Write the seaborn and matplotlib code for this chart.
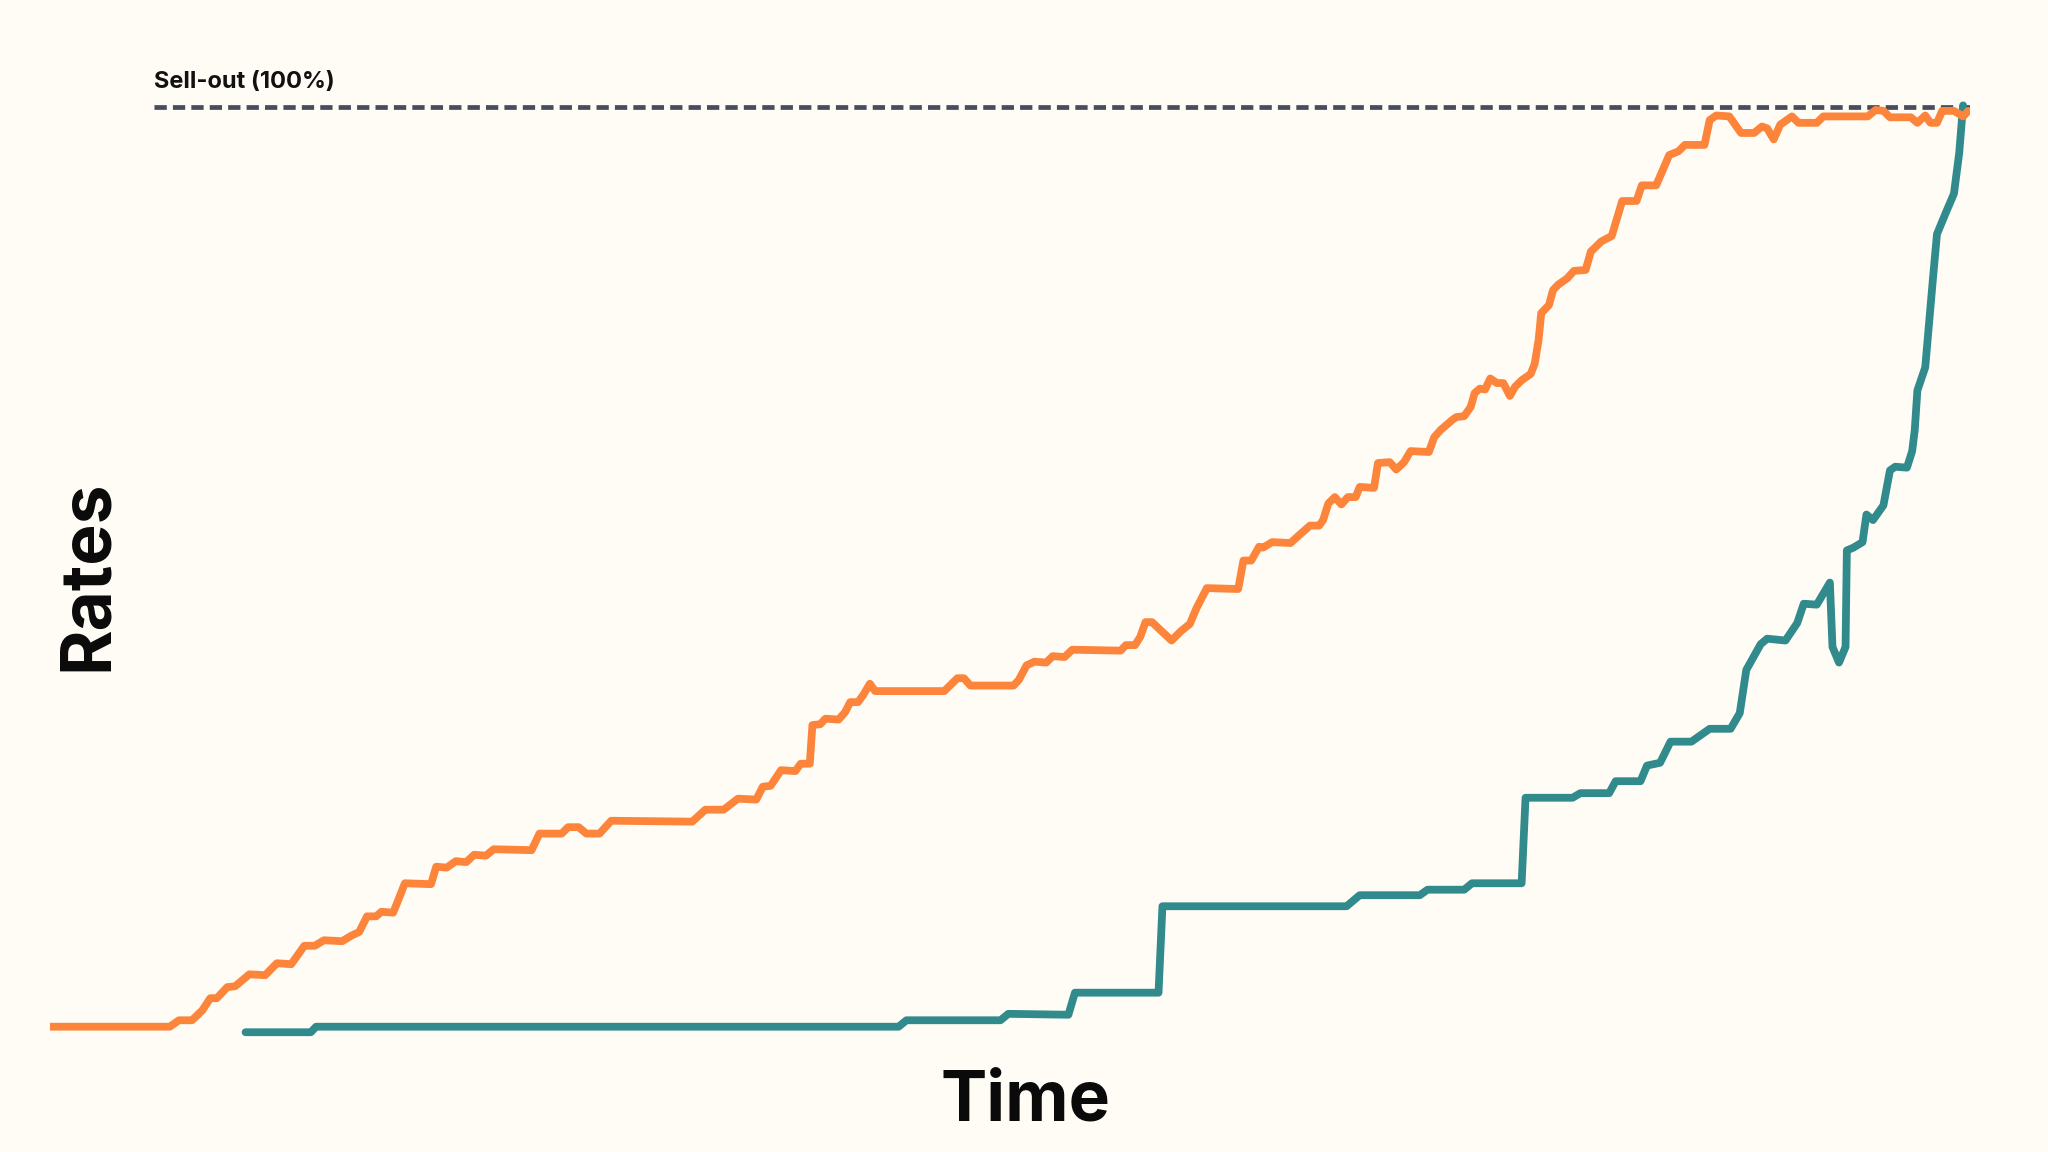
import pandas as pd
import matplotlib.pyplot as plt
import seaborn as sns

# Days since sales opened, and % of capacity sold
orange_days = [0.0, 9.2, 9.9, 10.9, 11.7, 12.3, 12.8, 13.6, 14.2, 15.3, 16.5, 17.4, 18.5,
               19.5, 20.3, 21.0, 22.4, 23.1, 23.7, 24.3, 25.0, 25.4, 26.3, 26.7, 27.2,
               29.2, 29.6, 30.4, 31.1, 31.9, 32.5, 33.4, 34.0, 36.9, 37.5, 39.2, 39.7,
               40.5, 41.1, 42.1, 43.0, 49.2, 50.2, 51.6, 52.7, 54.1, 54.6, 55.2, 56.0,
               57.1, 57.5, 58.2, 58.4, 59.0, 59.4, 60.4, 60.9, 61.3, 61.9, 62.3, 62.8,
               63.2, 68.5, 69.5, 70.0, 70.5, 73.8, 74.2, 74.8, 75.4, 76.3, 76.8, 77.7,
               78.3, 82.0, 82.4, 83.1, 83.5, 83.9, 84.4, 85.9, 86.6, 87.3, 87.8, 88.6,
               91.0, 91.4, 92.0, 92.6, 92.9, 93.6, 95.0, 95.7, 96.5, 97.2, 97.5, 97.9,
               98.4, 98.9, 99.4, 100.0, 100.3, 101.4, 101.7, 102.6, 103.1, 103.7, 104.2,
               105.6, 106.0, 106.5, 107.4, 107.7, 108.3, 108.8, 109.1, 109.5, 109.9,
               110.3, 110.8, 111.3, 111.8, 112.2, 112.7, 113.4, 113.7, 114.0, 114.2,
               114.8, 115.1, 115.5, 116.2, 116.7, 117.6, 118.0, 118.8, 119.6, 120.4,
               121.5, 121.9, 123.0, 124.0, 124.7, 125.2, 126.7, 127.1, 127.6, 128.6,
               129.5, 130.5, 131.1, 131.5, 132.0, 132.5, 133.4, 133.9, 135.3, 135.8,
               139.2, 139.8, 140.4, 140.9, 142.5, 143.0, 143.6, 144.0, 144.5, 144.9,
               145.8, 146.5, 146.9]
orange_rate = [0.0, 0.0, 0.7, 0.7, 1.8, 3.1, 3.1, 4.3, 4.4, 5.7, 5.6, 6.9, 6.8,
               8.8, 8.8, 9.4, 9.3, 9.9, 10.3, 12.0, 12.0, 12.5, 12.4, 13.8, 15.6,
               15.5, 17.4, 17.3, 18.0, 17.9, 18.7, 18.6, 19.3, 19.2, 21.0, 21.0, 21.7,
               21.7, 21.0, 21.0, 22.4, 22.3, 23.6, 23.6, 24.8, 24.7, 26.1, 26.2, 27.9,
               27.8, 28.6, 28.6, 32.8, 32.9, 33.5, 33.4, 34.2, 35.3, 35.3, 36.1, 37.3,
               36.5, 36.5, 37.9, 37.9, 37.1, 37.1, 37.7, 39.3, 39.7, 39.6, 40.3, 40.2,
               41.0, 40.9, 41.5, 41.5, 42.4, 44.0, 44.0, 42.0, 43.0, 43.8, 45.5, 47.7,
               47.6, 50.7, 50.7, 52.2, 52.1, 52.7, 52.6, 53.5, 54.5, 54.5, 55.1, 56.9,
               57.6, 56.8, 57.6, 57.6, 58.7, 58.6, 61.3, 61.4, 60.6, 61.4, 62.6,
               62.5, 64.1, 64.9, 66.0, 66.3, 66.4, 67.4, 68.9, 69.4, 69.3,
               70.5, 70.0, 70.0, 68.6, 69.6, 70.3, 71.0, 72.1, 74.7, 77.6,
               78.5, 80.1, 80.7, 81.4, 82.2, 82.3, 84.3, 85.4, 86.0, 89.8,
               89.8, 91.5, 91.5, 94.8, 95.2, 95.9, 95.9, 98.6, 99.1, 99.0,
               97.2, 97.2, 97.9, 97.7, 96.5, 98.1, 99.0, 98.3, 98.3, 99.0,
               99.0, 99.7, 99.6, 98.9, 98.9, 98.3, 99.1, 98.3, 98.3, 99.6,
               99.6, 99.0, 99.6]

teal_days = [15.0, 20.0, 20.4, 65.0, 65.6, 72.8, 73.4, 78.0, 78.5, 84.9, 85.2, 99.3,
             100.3, 104.9, 105.5, 108.3, 108.9, 112.7, 113.0, 116.6, 117.2, 119.4,
             119.9, 121.8, 122.3, 123.3, 124.1, 125.7, 126.4, 127.1, 128.7, 129.4,
             129.9, 131.0, 131.5, 132.9, 133.8, 134.3, 135.3, 136.3, 136.5, 137.0,
             137.5, 137.6, 138.1, 138.8, 139.1, 139.6, 140.4, 140.9, 141.3, 142.2,
             142.6, 142.8, 143.0, 143.6, 144.2, 144.5, 145.2, 145.8, 146.2, 146.5]
teal_rate = [-0.6, -0.6, 0.0, 0.0, 0.7, 0.7, 1.4, 1.3, 3.7, 3.7, 13.1, 13.1,
             14.3, 14.3, 14.9, 14.9, 15.6, 15.6, 24.9, 24.9, 25.4, 25.4,
             26.7, 26.7, 28.4, 28.7, 31.0, 31.0, 31.7, 32.4, 32.4, 34.1,
             38.8, 41.6, 42.2, 42.0, 43.9, 46.0, 45.9, 48.3, 41.3, 39.6,
             41.3, 51.8, 52.1, 52.7, 55.7, 55.1, 56.7, 60.5, 60.9, 60.8,
             62.6, 64.9, 69.2, 71.7, 81.5, 86.2, 88.6, 90.6, 95.0, 100.2]

sellout_start = 8.0
sellout_level = 100

bg = "#FFFCF5"
orange = "#FD843B"
teal = "#318A8C"

df = pd.concat([
    pd.DataFrame({"Time": orange_days, "Rates": orange_rate, "series": "a"}),
    pd.DataFrame({"Time": teal_days, "Rates": teal_rate, "series": "b"}),
])

sns.set_theme(style="white")
plt.rcParams["font.family"] = ["Inter", "DejaVu Sans"]

fig = plt.figure(figsize=(20.48, 11.52), dpi=100, facecolor=bg)
ax = fig.add_axes([0.02423, 0.0928, 0.9375, 0.8301])
ax.set_facecolor(bg)

# sell-out reference line
ax.plot([sellout_start, 147], [sellout_level, sellout_level], color="#474D5C",
        lw=3.4, ls=(0, (2.6, 1.3)), zorder=1)
ax.text(sellout_start, 102.1, "Sell-out (100%)", fontsize=17, fontweight="bold",
        color="#111111", va="baseline", ha="left")

sns.lineplot(data=df[df.series == "b"], x="Time", y="Rates", color=teal, lw=5.6,
             sort=False, estimator=None, ax=ax, solid_capstyle="round",
             solid_joinstyle="round", zorder=2)
sns.lineplot(data=df[df.series == "a"], x="Time", y="Rates", color=orange, lw=5.6,
             sort=False, estimator=None, ax=ax, solid_capstyle="round",
             solid_joinstyle="round", zorder=3)

ax.set_xlim(0, 147)
ax.set_ylim(-2, 102)
ax.set_axis_off()

fig.text(0.5005, 0.0273, "Time", fontsize=50, fontweight="bold", ha="center",
         va="baseline", color="#0a0a0a")
fig.text(0.0522, 0.5009, "Rates", fontsize=50, fontweight="bold", ha="center",
         va="baseline", rotation=90, rotation_mode="anchor", color="#0a0a0a")

fig.savefig("out.png", dpi=100, facecolor=bg)
